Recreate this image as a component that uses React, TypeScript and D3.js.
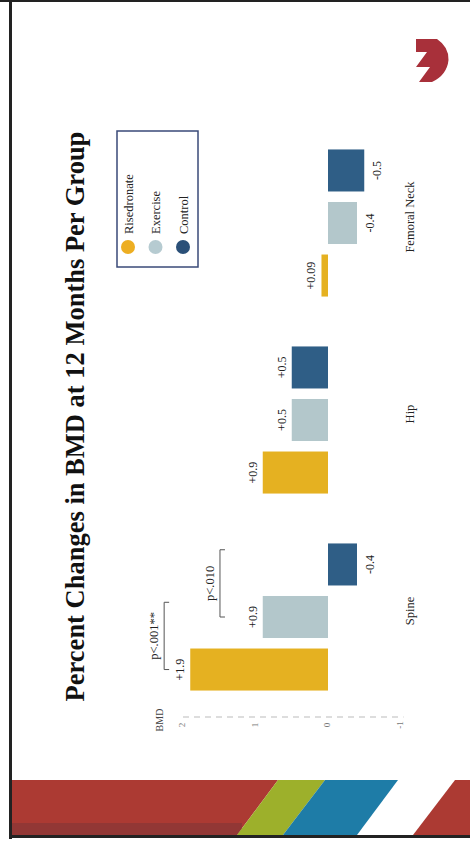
import React from "react";
import * as d3 from "d3";

const groups = ["Spine", "Hip", "Femoral Neck"];
const series = ["Risedronate", "Exercise", "Control"];
const risedronate = [1.9, 0.9, 0.09];
const exercise = [0.9, 0.5, -0.4];
const control = [-0.4, 0.5, -0.5];
const yTicks = [2, 1, 0, -1];
const colors = ["#E5B121", "#B3C7CB", "#2F5E86"];
const legendColors = ["#EDAE22", "#B6CBD1", "#2B5078"];
const brackets = [
  { group: "Spine", from: "Risedronate", to: "Exercise", level: 2.26, label: "p<.001**" },
  { group: "Spine", from: "Exercise", to: "Control", level: 1.49, label: "p<.010" },
];
const title = "Percent Changes in BMD at 12 Months Per Group";
const yLabel = "BMD";

const W = 470;
const H = 841;
const serif = "'Liberation Serif', 'Times New Roman', serif";

export default function App() {
  const values = [risedronate, exercise, control];
  const x0 = d3.scaleBand().domain(groups).range([125.5, 716.5]).paddingInner(0.2).paddingOuter(0.1);
  const x1 = d3.scaleBand().domain(series).range([0, x0.bandwidth()]).paddingInner(0.2).paddingOuter(0.1);
  const y = d3.scaleLinear().domain([-1, 2]).range([400.5, 183]);
  const bw = x1.bandwidth();
  const fmt = (v: number) => (v > 0 ? "+" + v : String(v));

  return (
    <svg width={W} height={H} style={{ position: "absolute", left: 0, top: 0, background: "#fff" }}>
      {/* slide frame */}
      <rect x={0} y={0} width={W} height={2} fill="#222" />
      <rect x={9} y={0} width={3} height={839} fill="#222" />
      {/* bottom decorative band */}
      <polygon points="12,780 278,780 237,835 12,835" fill="#AC3A33" />
      <rect x={12} y={823} width={230} height={12} fill="#7E3436" opacity={0.55} />
      <polygon points="278,780 325,780 283,835 237,835" fill="#9DB02B" />
      <polygon points="325,780 398,780 357,835 283,835" fill="#1E7CA7" />
      <polygon points="455,780 470,780 470,835 413,835" fill="#AC3A33" />
      <rect x={9} y={835} width={W - 9} height={3} fill="#222" />
      {/* logo */}
      <path
        d="M416,39 L437,39 Q449,47 448.5,60 Q447,75 432,82 L419,82 L430,67 L416,67 L427,52 L416,52 Z"
        fill="#A8303A"
      />
      <g transform={`translate(0,${H}) rotate(-90)`}>
        <text x={424.5} y={84} textAnchor="middle" fontFamily={serif} fontWeight="bold" fontSize={26.5} fill="#111">
          {title}
        </text>
        {/* axis */}
        <line x1={124} x2={124} y1={y(2)} y2={y(-1) + 3} stroke="#bbb" strokeWidth={1} strokeDasharray="6,5" />
        {yTicks.map((t) => (
          <text key={t} x={116} y={y(t)} textAnchor="middle" dominantBaseline="middle" fontFamily={serif} fontSize={9} fill="#777">
            {t}
          </text>
        ))}
        <text x={121} y={163} textAnchor="middle" fontFamily={serif} fontSize={10} fill="#444">
          {yLabel}
        </text>
        {/* bars */}
        {groups.map((g, gi) =>
          series.map((s, si) => {
            const v = values[si][gi];
            const u = (x0(g) as number) + (x1(s) as number);
            const top = Math.min(y(v), y(0));
            const h = Math.abs(y(v) - y(0));
            return (
              <g key={g + s}>
                <rect x={u} y={top} width={bw} height={h} fill={colors[si]} />
                <text
                  x={u + bw / 2}
                  y={v >= 0 ? y(v) - 6 : y(v) + 17}
                  textAnchor="middle"
                  fontFamily={serif}
                  fontSize={12}
                  fill="#222"
                >
                  {fmt(v)}
                </text>
              </g>
            );
          })
        )}
        {/* category labels */}
        {groups.map((g) => (
          <text key={g} x={(x0(g) as number) + x0.bandwidth() / 2 + 6} y={414} textAnchor="middle" fontFamily={serif} fontSize={12.5} fill="#222">
            {g}
          </text>
        ))}
        {/* significance brackets */}
        {brackets.map((b) => {
          const base = x0(b.group) as number;
          const a = base + (x1(b.from) as number) + bw * 0.5;
          const e = base + (x1(b.to) as number) + bw * 0.85;
          const lv = y(b.level);
          return (
            <g key={b.label}>
              <path d={`M${a},${lv + 5} L${a},${lv} L${e},${lv} L${e},${lv + 5}`} fill="none" stroke="#555" strokeWidth={1} />
              <text x={(a + e) / 2} y={lv - 6} textAnchor="middle" fontFamily={serif} fontSize={12.5} fill="#222">
                {b.label}
              </text>
            </g>
          );
        })}
        {/* legend */}
        <rect x={574} y={117} width={136} height={81} fill="none" stroke="#3A4A78" strokeWidth={1.5} />
        {series.map((s, i) => (
          <g key={s}>
            <circle cx={594} cy={128 + i * 27.5} r={7} fill={legendColors[i]} />
            <text x={607} y={128 + i * 27.5 + 4.5} fontFamily={serif} fontSize={12.5} fill="#222">
              {s}
            </text>
          </g>
        ))}
      </g>
    </svg>
  );
}
